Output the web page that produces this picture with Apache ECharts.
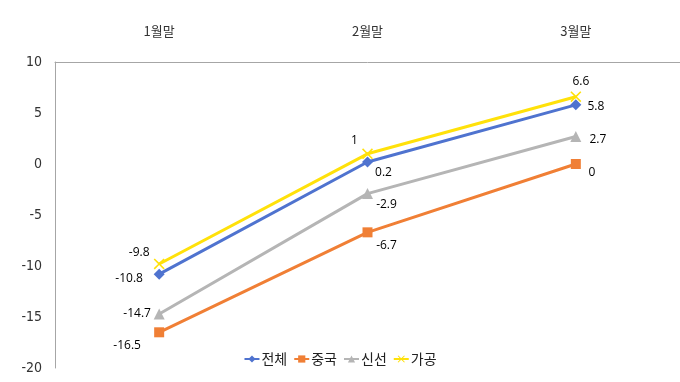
<!DOCTYPE html>
<html><head><meta charset="utf-8">
<script src="https://cdn.jsdelivr.net/npm/echarts@6/dist/echarts.min.js"></script>
<style>html,body{margin:0;padding:0;background:#fff}#c{width:680px;height:382px}</style>
</head><body><div id="c"></div>
<script>
var categories = ['1월말', '2월말', '3월말'];
var seriesNames = ['전체', '중국', '신선', '가공'];
var total = [-10.8, 0.2, 5.8];
var china = [-16.5, -6.7, 0];
var fresh = [-14.7, -2.9, 2.7];
var processed = [-9.8, 1, 6.6];
var yTicks = [-20, -15, -10, -5, 0, 5, 10];

var labelOffsets = {
  '전체': [[-30, 4], [16, 11], [20, 2]],
  '중국': [[-32, 13], [19, 13], [16, 9]],
  '신선': [[-22, 0], [19, 11], [22, 3]],
  '가공': [[-20, -11], [-13, -13], [5, -15]]
};
var colors = ['#4F73CF', '#F07F35', '#B5B5B5', '#FFE10A'];
var symbols = ['diamond', 'rect', 'triangle', 'path://M0,1L1,0L5,4L9,0L10,1L6,5L10,9L9,10L5,6L1,10L0,9L4,5Z'];
var values = [total, china, fresh, processed];

function mk(i) {
  var name = seriesNames[i];
  return {
    name: name, type: 'line', data: values[i].map(function (v, j) {
      return { value: v, label: { offset: labelOffsets[name][j] } };
    }),
    symbol: symbols[i], symbolSize: i === 1 ? 10 : 11,
    lineStyle: { width: 3, color: colors[i] },
    itemStyle: { color: colors[i] },
    z: 10 - i,
    label: { show: true, position: 'inside', color: '#000', fontSize: 12, fontFamily: 'Open Sans, Noto Sans, sans-serif' }
  };
}

var chart = echarts.init(document.getElementById('c'));
chart.setOption({
  animation: false,
  grid: { left: 55, right: -3, top: 62, bottom: 14 },
  legend: {
    bottom: 11, left: 'center', itemGap: 6, itemWidth: 15, itemHeight: 9,
    textStyle: { fontSize: 14, color: '#222', fontFamily: 'Noto Sans CJK KR', padding: [0, 0, 0, -3] },
    data: seriesNames
  },
  xAxis: {
    type: 'category', position: 'top', data: categories, boundaryGap: true,
    axisLine: { onZero: false, lineStyle: { color: '#A6A6A6', width: 1 } },
    axisTick: { show: false },
    axisLabel: { margin: 24, fontSize: 13, color: '#333', fontFamily: 'Noto Sans CJK KR' }
  },
  yAxis: {
    type: 'value', min: yTicks[0], max: yTicks[yTicks.length - 1], interval: 5,
    splitLine: { show: false },
    axisLine: { show: true, lineStyle: { color: '#A6A6A6', width: 1 } },
    axisTick: { show: false },
    axisLabel: { margin: 13, fontSize: 14, color: '#333', fontFamily: 'DejaVu Sans Condensed, Liberation Sans Narrow, sans-serif' }
  },
  series: [0, 1, 2, 3].map(mk)
});
</script></body></html>
